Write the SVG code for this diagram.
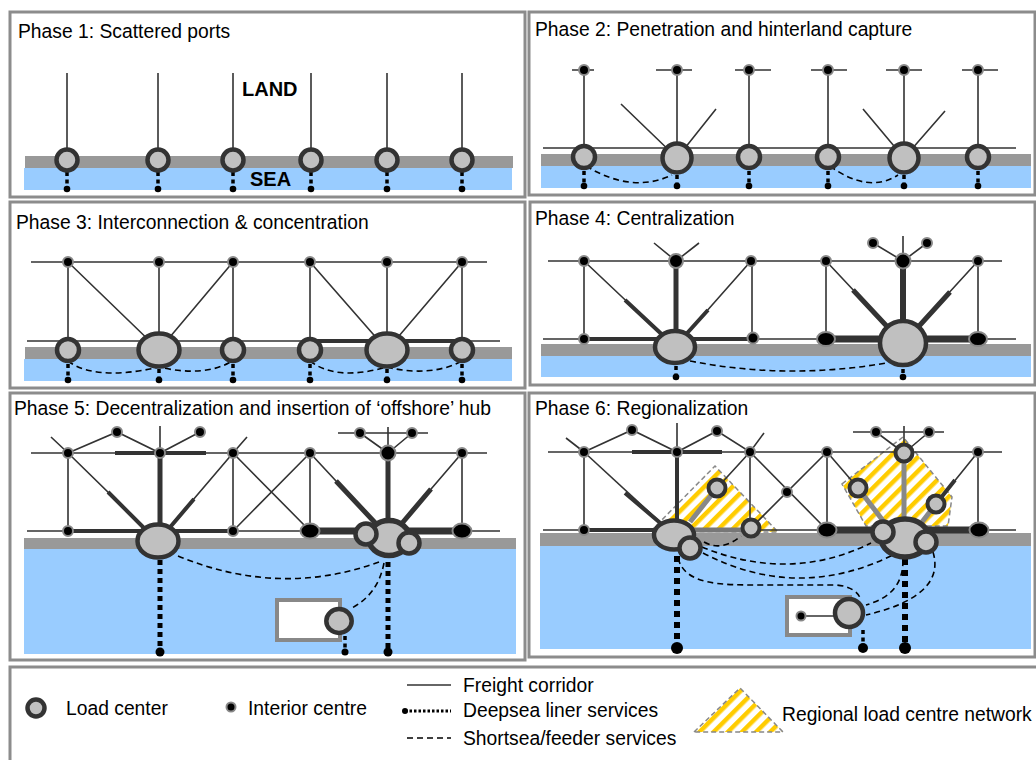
<svg xmlns="http://www.w3.org/2000/svg" width="1036" height="760" viewBox="0 0 1036 760">
<defs>
<pattern id="hatch" width="10" height="10" patternUnits="userSpaceOnUse" patternTransform="rotate(45)">
<rect width="10" height="10" fill="#fff"/>
<rect width="4.5" height="10" fill="#ffcc00"/>
</pattern>
<style>
.panel{fill:#fff;stroke:#8c8c8c;stroke-width:3}
.t{font-family:"Liberation Sans",Arial,sans-serif;font-size:19.3px;fill:#000}
.b{font-family:"Liberation Sans",Arial,sans-serif;font-size:20px;font-weight:bold;fill:#000}
.land{fill:#999}
.sea{fill:#99ccff}
.c{stroke:#333;stroke-width:1.6;fill:none}
.c4{stroke:#333;stroke-width:4;fill:none}
.c5{stroke:#333;stroke-width:5;fill:none}
.c6{stroke:#333;stroke-width:6;fill:none}
.c7{stroke:#333;stroke-width:7;fill:none}
.g5{stroke:#888;stroke-width:5;fill:none}
.lc{fill:#c0c0c0;stroke:#333;stroke-width:4.5}
.lc5{fill:#c0c0c0;stroke:#333;stroke-width:5.5}
.rg{fill:#c0c0c0;stroke:#333;stroke-width:4}
.ic{fill:#000;stroke:#888;stroke-width:2}
.d3{stroke:#000;stroke-width:3.5;stroke-dasharray:4 3.5;fill:none}
.d5{stroke:#000;stroke-width:5;stroke-dasharray:5 4;fill:none}
.d6{stroke:#000;stroke-width:6;stroke-dasharray:6 5;fill:none}
.s{stroke:#000;stroke-width:1.6;stroke-dasharray:6 4;fill:none}
.dot{fill:#000}
.reg{fill:url(#hatch);stroke:#888;stroke-width:1.5;stroke-dasharray:5 3}
.hub{fill:#fff;stroke:#888;stroke-width:4}
</style>
</defs>
<rect width="1036" height="760" fill="#fff"/>

<!-- PHASE 1 -->
<g id="phase1">
<rect class="panel" x="10" y="12" width="515" height="185"/>
<text class="t" x="18" y="38">Phase 1: Scattered ports</text>
<rect class="land" x="25" y="156" width="488" height="12"/>
<rect class="sea" x="24" y="168" width="488" height="22"/>
<text class="b" x="242" y="96">LAND</text>
<text class="b" x="250" y="186">SEA</text>
<g id="p1-connectors">
<path class="c" d="M67,73V150M158,73V150M233,73V150M311,73V150M387,73V150M462,73V150"/>
<path class="d3" d="M67,172V189M158,172V189M233,172V189M311,172V189M387,172V189M462,172V189"/>
<g class="dot"><circle cx="67" cy="189" r="3.3"/><circle cx="158" cy="189" r="3.3"/><circle cx="233" cy="189" r="3.3"/><circle cx="311" cy="189" r="3.3"/><circle cx="387" cy="189" r="3.3"/><circle cx="462" cy="189" r="3.3"/></g>
</g>
<g id="p1-port1"><circle class="lc" cx="67" cy="160" r="10.5"/></g>
<g id="p1-port2"><circle class="lc" cx="158" cy="160" r="10.5"/></g>
<g id="p1-port3"><circle class="lc" cx="233" cy="160" r="10.5"/></g>
<g id="p1-port4"><circle class="lc" cx="311" cy="160" r="10.5"/></g>
<g id="p1-port5"><circle class="lc" cx="387" cy="160" r="10.5"/></g>
<g id="p1-port6"><circle class="lc" cx="462" cy="160" r="10.5"/></g>
</g>

<!-- PHASE 2 -->
<g id="phase2">
<rect class="panel" x="529" y="12" width="506" height="183"/>
<text class="t" x="535" y="36">Phase 2: Penetration and hinterland capture</text>
<rect class="land" x="541" y="154" width="490" height="12"/>
<rect class="sea" x="541" y="166" width="490" height="22"/>
<g id="p2-connectors">
<path class="c" d="M543,148H1016M572,70H594M656,70H692M735,70H771M811,70H847M886,70H922M962,70H998"/>
<path class="c" d="M584,70V157M677,70V158M749,70V157M828,70V157M904,70V158M978,70V157"/>
<path class="c" d="M677,158L621,104M677,158L716,109M904,158L863,109M904,158L945,111"/>
<path class="s" d="M586,166Q632,194 672,175M830,166Q868,194 898,175"/>
<path class="d3" d="M584,171V186M677,175V186M749,171V186M828,171V186M904,175V186M978,171V186"/>
<g class="dot"><circle cx="584" cy="186" r="3.3"/><circle cx="677" cy="186" r="3.3"/><circle cx="749" cy="186" r="3.3"/><circle cx="828" cy="186" r="3.3"/><circle cx="904" cy="186" r="3.3"/><circle cx="978" cy="186" r="3.3"/></g>
</g>
<g id="p2-ic1"><circle class="ic" cx="584" cy="70" r="5"/></g>
<g id="p2-ic2"><circle class="ic" cx="677" cy="70" r="5"/></g>
<g id="p2-ic3"><circle class="ic" cx="749" cy="70" r="5"/></g>
<g id="p2-ic4"><circle class="ic" cx="828" cy="70" r="5"/></g>
<g id="p2-ic5"><circle class="ic" cx="904" cy="70" r="5"/></g>
<g id="p2-ic6"><circle class="ic" cx="978" cy="70" r="5"/></g>
<g id="p2-port1"><circle class="lc" cx="584" cy="157" r="11"/></g>
<g id="p2-port2"><circle class="lc" cx="677" cy="158" r="14.5" stroke-width="5"/></g>
<g id="p2-port3"><circle class="lc" cx="749" cy="157" r="11"/></g>
<g id="p2-port4"><circle class="lc" cx="828" cy="157" r="11"/></g>
<g id="p2-port5"><circle class="lc" cx="904" cy="158" r="14.5" stroke-width="5"/></g>
<g id="p2-port6"><circle class="lc" cx="978" cy="157" r="11"/></g>
</g>

<!-- PHASE 3 -->
<g id="phase3">
<rect class="panel" x="10" y="202" width="515" height="186"/>
<text class="t" x="16" y="229">Phase 3: Interconnection &amp; concentration</text>
<rect class="land" x="25" y="347" width="487" height="12"/>
<rect class="sea" x="24" y="359" width="488" height="22"/>
<g id="p3-connectors">
<path class="c" d="M31,262H487M27,341H500"/>
<path class="c4" d="M310,341H462"/>
<path class="c" d="M68,262V350M159,262V350M233,262V350M310,262V350M387,262V350M462,262V350"/>
<path class="c" d="M68,262L159,350M233,262L159,350M310,262L387,350M462,262L387,350"/>
<path class="s" d="M68,361C90,378 130,374 159,367C188,374 215,372 232,361M310,361C332,378 362,374 387,367C414,374 442,372 462,361"/>
<path class="d3" d="M68,364V380M159,369V380M233,364V380M310,364V380M387,369V380M462,364V380"/>
<g class="dot"><circle cx="68" cy="380" r="3.3"/><circle cx="159" cy="380" r="3.3"/><circle cx="233" cy="380" r="3.3"/><circle cx="310" cy="380" r="3.3"/><circle cx="387" cy="380" r="3.3"/><circle cx="462" cy="380" r="3.3"/></g>
</g>
<g id="p3-ic1"><circle class="ic" cx="68" cy="262" r="5"/></g>
<g id="p3-ic2"><circle class="ic" cx="159" cy="262" r="5"/></g>
<g id="p3-ic3"><circle class="ic" cx="233" cy="262" r="5"/></g>
<g id="p3-ic4"><circle class="ic" cx="310" cy="262" r="5"/></g>
<g id="p3-ic5"><circle class="ic" cx="387" cy="262" r="5"/></g>
<g id="p3-ic6"><circle class="ic" cx="462" cy="262" r="5"/></g>
<g id="p3-port1"><circle class="lc" cx="68" cy="350" r="11"/></g>
<g id="p3-port2"><ellipse class="lc" cx="159" cy="350" rx="20.5" ry="16.5" stroke-width="5"/></g>
<g id="p3-port3"><circle class="lc" cx="233" cy="350" r="11"/></g>
<g id="p3-port4"><circle class="lc" cx="310" cy="350" r="11"/></g>
<g id="p3-port5"><ellipse class="lc" cx="387" cy="350" rx="20.5" ry="16.5" stroke-width="5"/></g>
<g id="p3-port6"><circle class="lc" cx="462" cy="350" r="11"/></g>
</g>

<!-- PHASE 4 -->
<g id="phase4">
<rect class="panel" x="530" y="202" width="505" height="183"/>
<text class="t" x="535" y="225">Phase 4: Centralization</text>
<rect class="land" x="541" y="344" width="490" height="12"/>
<rect class="sea" x="541" y="356" width="490" height="21"/>
<g id="p4-connectors">
<path class="c" d="M548,261H1002M543,339H1016"/>
<path class="c" d="M676,261L654,243M676,261L699,243M903,261V236M903,261L873,243M903,261L927,243"/>
<path class="c4" d="M584,339H753"/>
<path class="c7" d="M826,339H978"/>
<path class="c" d="M584,261V339M752,261V338M826,261V339M978,261V339"/>
<path class="c5" d="M676,261V335"/>
<path class="c6" d="M903,261V325"/>
<path class="c" d="M584,261L675,347M751,261L675,347M826,261L903,343M978,261L903,343"/>
<path class="c4" d="M625,300L670,342M708,310L680,341" stroke-width="4.5"/>
<path class="c5" d="M853,290L895,335M950,292L910,336"/>
<path class="s" d="M690,361Q788,380 886,363"/>
<path class="d3" d="M676,366V377M903,369V377"/>
<g class="dot"><circle cx="676" cy="377" r="3.3"/><circle cx="903" cy="377" r="3.3"/></g>
</g>
<g id="p4-ic1"><circle class="ic" cx="584" cy="261" r="5"/></g>
<g id="p4-ic2"><circle class="ic" cx="676" cy="261" r="7"/></g>
<g id="p4-ic3"><circle class="ic" cx="751" cy="261" r="5"/></g>
<g id="p4-ic4"><circle class="ic" cx="826" cy="261" r="5"/></g>
<g id="p4-ic5"><circle class="ic" cx="903" cy="261" r="7.5"/></g>
<g id="p4-ic6"><circle class="ic" cx="978" cy="261" r="5"/></g>
<g id="p4-ic7"><circle class="ic" cx="873" cy="243" r="5"/></g>
<g id="p4-ic8"><circle class="ic" cx="927" cy="243" r="5"/></g>
<g id="p4-ic9"><circle class="ic" cx="584" cy="339" r="5"/></g>
<g id="p4-ic10"><circle class="ic" cx="753" cy="338" r="5.5"/></g>
<g id="p4-ic11"><ellipse class="ic" cx="826" cy="339" rx="9" ry="7"/></g>
<g id="p4-ic12"><ellipse class="ic" cx="978" cy="339" rx="9" ry="7"/></g>
<g id="p4-port1"><ellipse class="lc" cx="675" cy="347" rx="20" ry="16" stroke-width="5"/></g>
<g id="p4-port2"><ellipse class="lc" cx="903" cy="343" rx="23" ry="22" stroke-width="6"/></g>
</g>

<!-- PHASE 5 -->
<g id="phase5">
<rect class="panel" x="10" y="393" width="515" height="267"/>
<text class="t" x="14" y="415">Phase 5: Decentralization and insertion of ‘offshore’ hub</text>
<rect class="land" x="24" y="538" width="492" height="11"/>
<rect class="sea" x="24" y="549" width="492" height="105"/>
<g id="p5-connectors">
<path class="c" d="M31,453H487M27,531H500"/>
<path class="c4" d="M115,453H206M68,531H233"/>
<path class="c7" d="M310,531H462"/>
<path class="c" d="M68,453L51,437M68,453L117,432L160,453L200,432M160,453V426M233,453L247,437"/>
<path class="c" d="M338,433H428M388,453V427M388,453L360,433M388,453L412,433"/>
<path class="c" d="M68,453V531M233,453V531M310,453V531M462,453V531M233,453L310,531M310,453L233,531"/>
<path class="c5" d="M160,453V525M388,453V520"/>
<path class="c" d="M68,453L158,541M233,453L158,541M310,453L389,538M462,453L389,538"/>
<path class="c4" d="M108,492L150,534M194,499L166,532" stroke-width="4.5"/>
<path class="c5" d="M336,481L380,528M431,489L398,528"/>
<rect class="hub" x="277" y="600" width="63" height="40"/>
<path class="s" d="M178,556Q280,598 379,562M384,563Q378,595 350,609"/>
<path class="d5" d="M160,560V650M388,562V650"/>
<path class="d3" d="M345,636V650"/>
<g class="dot"><circle cx="160" cy="652" r="4.5"/><circle cx="388" cy="652" r="4.5"/><circle cx="345" cy="652" r="3.5"/></g>
</g>
<g id="p5-ic1"><circle class="ic" cx="68" cy="453" r="5"/></g>
<g id="p5-ic2"><circle class="ic" cx="160" cy="453" r="5" fill="#333"/></g>
<g id="p5-ic3"><circle class="ic" cx="233" cy="453" r="5"/></g>
<g id="p5-ic4"><circle class="ic" cx="310" cy="453" r="5"/></g>
<g id="p5-ic5"><circle class="ic" cx="388" cy="453" r="7.5"/></g>
<g id="p5-ic6"><circle class="ic" cx="462" cy="453" r="5"/></g>
<g id="p5-ic7"><circle class="ic" cx="117" cy="432" r="5"/></g>
<g id="p5-ic8"><circle class="ic" cx="200" cy="432" r="5"/></g>
<g id="p5-ic9"><circle class="ic" cx="360" cy="433" r="5"/></g>
<g id="p5-ic10"><circle class="ic" cx="412" cy="433" r="5"/></g>
<g id="p5-ic11"><circle class="ic" cx="68" cy="531" r="5"/></g>
<g id="p5-ic12"><circle class="ic" cx="233" cy="531" r="5"/></g>
<g id="p5-ic13"><ellipse class="ic" cx="310" cy="531" rx="9.5" ry="7.5"/></g>
<g id="p5-ic14"><ellipse class="ic" cx="462" cy="531" rx="9.5" ry="7.5"/></g>
<g id="p5-port1"><ellipse class="lc" cx="158" cy="541" rx="20.5" ry="16.5" stroke-width="5"/></g>
<g id="p5-hub"><ellipse class="lc5" cx="389" cy="538" rx="20.5" ry="17.5"/><circle class="lc" cx="366" cy="534" r="10.5"/><circle class="lc" cx="409" cy="543" r="10.5"/></g>
<g id="p5-offshore"><ellipse class="lc" cx="339" cy="621" rx="12.7" ry="12" stroke-width="5"/></g>
</g>

<!-- PHASE 6 -->
<g id="phase6">
<rect class="panel" x="529" y="393" width="506" height="264"/>
<text class="t" x="535" y="415">Phase 6: Regionalization</text>
<rect class="land" x="540" y="533" width="491" height="13"/>
<rect class="sea" x="540" y="546" width="491" height="103"/>
<g id="p6-region1"><polygon class="reg" points="651,531 715,466 778,532"/></g>
<g id="p6-region2"><polygon class="reg" points="842,484 903,437 952,497 948,526 866,526"/></g>
<g id="p6-connectors">
<path class="c" d="M548,452H1002M543,530H1016"/>
<path class="c4" d="M632,452H722M584,530H674"/>
<path class="c7" d="M827,530H979"/>
<path d="M674,530H751" stroke="#777" stroke-width="5"/>
<path class="c" d="M584,452L566,438M584,452L632,430L677,452L717,431L750,452L764,433M677,452V423"/>
<path class="c" d="M853,432H944M904,453V426M904,453L876,432M904,453L929,432"/>
<path class="c" d="M584,452V530M750,452V528M827,452V530M978,452V530M750,452L827,530M827,452L751,528M750,452L717,488M827,452L858,488M978,452L936,504"/>
<path class="c" d="M584,452L674,535"/>
<path class="c4" d="M625,493L665,527M955,480L936,504" stroke-width="4.5"/>
<path class="c4" d="M677,452V520" stroke-width="4.5"/>
<path class="g5" d="M717,488L690,522M904,453V518M858,488L884,522M936,504L922,522"/>
<rect class="hub" x="787" y="597" width="63" height="38"/>
<path class="c" d="M801,616H835"/>
<path class="s" d="M704,542Q722,552 741,536M702,547Q790,583 871,543M703,553Q797,602 893,555M678,558C685,585 720,585 760,585L836,585C850,586 858,592 860,598M903,560C903,585 890,598 866,605M933,552C940,575 930,600 866,615"/>
<path class="d6" d="M677,556V644M905,559V644"/>
<path class="d3" d="M863,630V646"/>
<g class="dot"><circle cx="677" cy="648" r="6"/><circle cx="905" cy="648" r="6"/><circle cx="863" cy="648" r="5"/></g>
</g>
<g id="p6-ic1"><circle class="ic" cx="584" cy="452" r="5"/></g>
<g id="p6-ic2"><circle class="ic" cx="677" cy="452" r="5"/></g>
<g id="p6-ic3"><circle class="ic" cx="750" cy="452" r="5"/></g>
<g id="p6-ic4"><circle class="ic" cx="827" cy="452" r="5"/></g>
<g id="p6-ic5"><circle class="ic" cx="978" cy="452" r="5"/></g>
<g id="p6-ic6"><circle class="ic" cx="632" cy="430" r="5"/></g>
<g id="p6-ic7"><circle class="ic" cx="717" cy="431" r="5"/></g>
<g id="p6-ic8"><circle class="ic" cx="876" cy="432" r="5"/></g>
<g id="p6-ic9"><circle class="ic" cx="929" cy="432" r="5"/></g>
<g id="p6-ic10"><circle class="ic" cx="787" cy="492" r="5"/></g>
<g id="p6-ic11"><circle class="ic" cx="584" cy="530" r="5"/></g>
<g id="p6-ic12"><ellipse class="ic" cx="827" cy="530" rx="9.5" ry="7.5"/></g>
<g id="p6-ic13"><ellipse class="ic" cx="979" cy="530" rx="9.5" ry="7.5"/></g>
<g id="p6-rg1"><circle class="rg" cx="717" cy="488" r="8.5"/></g>
<g id="p6-rg2"><circle class="rg" cx="751" cy="528" r="8.5"/></g>
<g id="p6-rg3"><circle class="rg" cx="904" cy="453" r="8.5"/></g>
<g id="p6-rg4"><circle class="rg" cx="858" cy="488" r="8.5"/></g>
<g id="p6-rg5"><circle class="rg" cx="936" cy="504" r="8.5"/></g>
<g id="p6-port1"><ellipse class="lc" cx="674" cy="535" rx="20" ry="14.5" stroke-width="5"/><circle class="lc" cx="690" cy="548" r="10.5"/></g>
<g id="p6-hub"><ellipse class="lc5" cx="905" cy="538" rx="24" ry="19"/><circle class="lc" cx="883" cy="532" r="10.5"/><circle class="lc" cx="926" cy="542" r="10.5"/></g>
<g id="p6-offshore"><circle class="ic" cx="801" cy="616" r="4.5"/><circle class="lc" cx="849" cy="613" r="14" stroke-width="5"/></g>
</g>

<!-- LEGEND -->
<g id="legend">
<rect class="panel" x="10" y="667" width="1040" height="110"/>
<g id="lg-loadcenter"><circle class="lc" cx="36" cy="708" r="8.5"/><text class="t" x="66" y="715">Load center</text></g>
<g id="lg-interior"><circle class="ic" cx="231" cy="707" r="4.5"/><text class="t" x="248" y="715">Interior centre</text></g>
<g id="lg-freight"><path class="c" d="M407,685H451"/><text class="t" x="463" y="692">Freight corridor</text></g>
<g id="lg-deepsea"><path d="M405,711H451" stroke="#000" stroke-width="3" stroke-dasharray="2.5 2"/><circle class="dot" cx="405" cy="711" r="3"/><text class="t" x="463" y="717">Deepsea liner services</text></g>
<g id="lg-shortsea"><path class="s" d="M407,738H451" stroke-dasharray="5 4"/><text class="t" x="463" y="745">Shortsea/feeder services</text></g>
<g id="lg-region"><polygon class="reg" points="694,732 740,688 783,732"/><text class="t" x="782" y="721">Regional load centre network</text></g>
</g>
</svg>
